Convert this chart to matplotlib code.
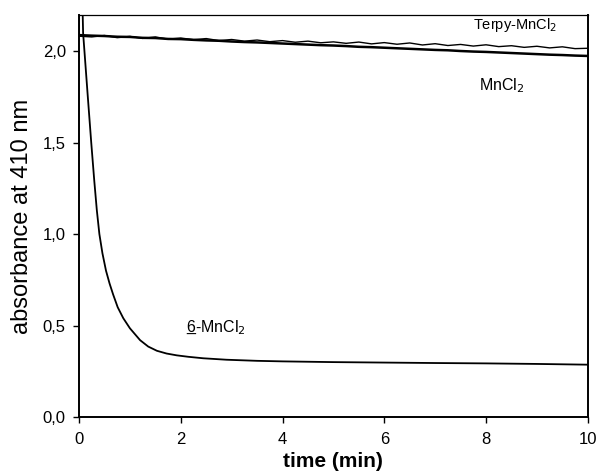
import numpy as np
import matplotlib.pyplot as plt
from matplotlib.ticker import FuncFormatter

plt.rcParams['font.family'] = ['Liberation Sans', 'DejaVu Sans']

# 6-MnCl2 decay trace (min, absorbance)
t_six = [0.0, 0.005, 0.06, 0.08, 0.17, 0.24, 0.30, 0.35, 0.40, 0.46, 0.53, 0.60,
         0.67, 0.76, 0.87, 1.0, 1.2, 1.36, 1.53, 1.72, 1.92, 2.15, 2.44, 2.9, 3.5,
         4.0, 5.0, 6.2, 7.0, 8.0, 9.0, 10.0]
a_six = [2.09, 2.35, 2.35, 2.10, 1.76, 1.50, 1.29, 1.13, 1.00, 0.895, 0.80, 0.73,
         0.67, 0.60, 0.54, 0.485, 0.42, 0.385, 0.362, 0.347, 0.337, 0.329, 0.321,
         0.313, 0.307, 0.304, 0.300, 0.297, 0.295, 0.293, 0.290, 0.286]

# MnCl2 and Terpy-MnCl2 traces, every 0.25 min
t_ref = np.arange(0, 10.01, 0.25)
a_mn = [2.088, 2.085, 2.083, 2.079, 2.078, 2.073, 2.072, 2.067, 2.066, 2.062,
        2.059, 2.057, 2.053, 2.050, 2.048, 2.045, 2.042, 2.039, 2.036, 2.033,
        2.031, 2.028, 2.024, 2.022, 2.019, 2.016, 2.013, 2.010, 2.007, 2.005,
        2.001, 1.998, 1.996, 1.993, 1.990, 1.987, 1.984, 1.981, 1.979, 1.976, 1.974]
a_terpy = [2.082, 2.078, 2.086, 2.074, 2.081, 2.070, 2.078, 2.066, 2.072, 2.063,
           2.069, 2.058, 2.064, 2.055, 2.061, 2.052, 2.058, 2.049, 2.055, 2.046,
           2.051, 2.043, 2.050, 2.040, 2.047, 2.038, 2.045, 2.034, 2.041, 2.031,
           2.037, 2.028, 2.035, 2.025, 2.030, 2.021, 2.027, 2.018, 2.024, 2.014, 2.016]

fig = plt.figure(figsize=(6.01, 4.74), dpi=100)
ax = fig.add_axes([0.1315, 0.1203, 0.8465, 0.8477])

ax.plot(t_ref, a_mn, color='black', lw=1.8)
ax.plot(t_ref, a_terpy, color='black', lw=1.0)
ax.plot(t_six, a_six, color='black', lw=1.3)

ax.set_xlim(0, 10)
ax.set_ylim(0, 2.197)
ax.set_xticks([0, 2, 4, 6, 8, 10])
ax.set_yticks([0, 0.5, 1.0, 1.5, 2.0])
ax.yaxis.set_major_formatter(FuncFormatter(lambda v, p: f"{v:.1f}".replace('.', ',')))
ax.tick_params(direction='out', length=4.5, width=1.0, labelsize=12)
ax.tick_params(axis='x', pad=6)
ax.tick_params(axis='y', pad=5)
for s in ['left', 'bottom', 'right']:
    ax.spines[s].set_linewidth(1.4)
ax.spines['top'].set_linewidth(0.9)

ax.set_xlabel('time (min)', fontsize=15, fontweight='bold', labelpad=4)
ax.set_ylabel('absorbance at 410 nm', fontsize=17, labelpad=7)

ax.text(8.57, 2.142, 'Terpy-MnCl$_2$', fontsize=10.5, ha='center', va='center')
ax.text(8.31, 1.81, 'MnCl$_2$', fontsize=11.5, ha='center', va='center')

# underlined "6" followed by -MnCl2
ax.text(2.10, 0.464, '6', fontsize=11.5, va='baseline')
ax.text(2.10, 0.464, '_', fontsize=11.5, va='baseline')
ax.annotate('-MnCl$_2$', xy=(2.10, 0.464), xytext=(6.4, 0),
            textcoords='offset points', fontsize=11.5, va='baseline')

fig.savefig('out.png', dpi=100)
